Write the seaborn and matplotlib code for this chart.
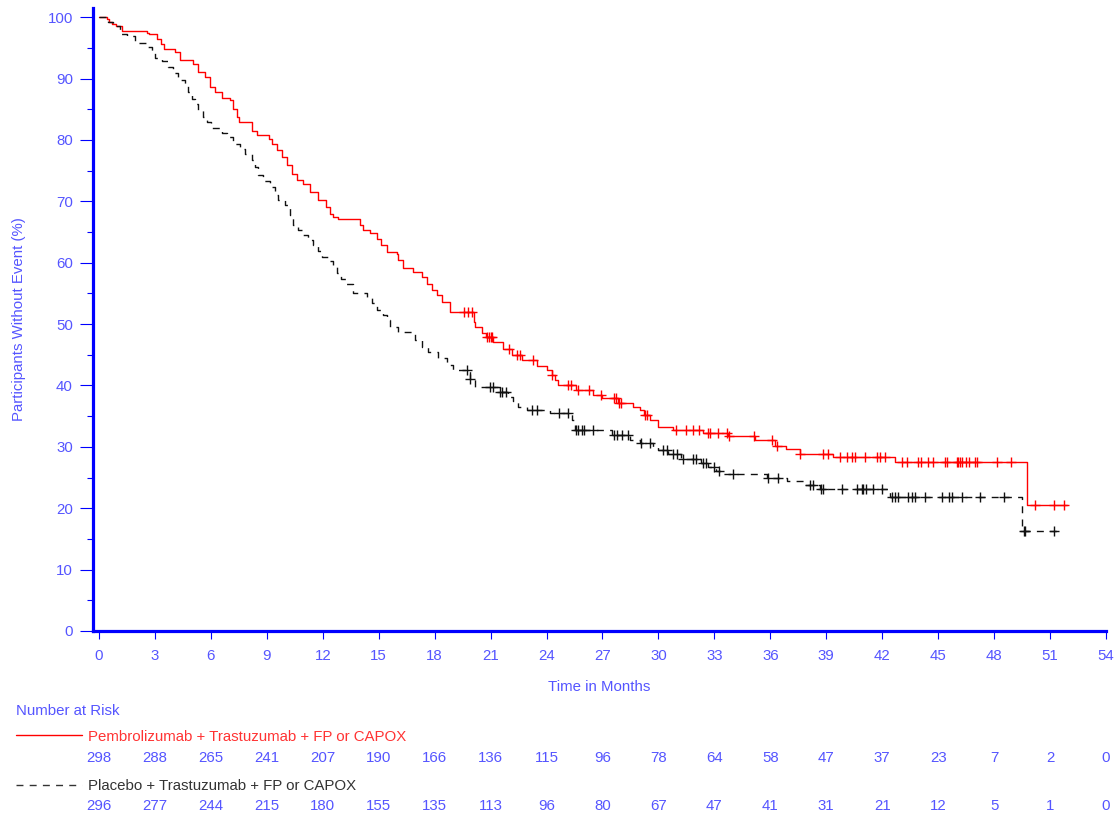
import numpy as np
import pandas as pd
import matplotlib
matplotlib.use("Agg")
import matplotlib.pyplot as plt
import matplotlib.transforms as mtransforms
from matplotlib.lines import Line2D
import seaborn as sns

# Kaplan-Meier knots (months, % without event)
red_time = [0, 0.41, 0.55, 0.7, 0.9, 1.25, 2.6, 2.7, 3.1, 3.3, 3.5, 4.1, 4.35, 5.06, 5.3,
            5.68, 5.95, 6.2, 6.58, 7.02, 7.2, 7.38, 7.5, 8.19, 8.49, 9.1, 9.3, 9.53, 9.8,
            10.06, 10.33, 10.6, 10.95, 11.3, 11.76, 12.17, 12.39, 12.56, 12.83, 14.0, 14.17,
            14.53, 14.9, 15.12, 15.43, 15.96, 16.05, 16.3, 16.85, 17.3, 17.57, 17.87, 18.1,
            18.37, 18.8, 20.1, 20.16, 20.52, 20.75, 21.14, 21.68, 22.13, 22.66, 23.47, 24.0,
            24.27, 24.45, 24.63, 25.6, 26.5, 26.95, 27.85, 28.65, 29.0, 29.2, 29.55, 30.0,
            30.8, 32.4, 33.75, 35.17, 36.25, 36.84, 37.6, 39.37, 42.7, 49.74, 51.89]
red_surv = [100, 99.7, 99.3, 98.9, 98.5, 97.8, 97.5, 97.2, 96.5, 95.7, 94.9, 94.4, 93.1, 92.4,
            91.1, 90.3, 88.7, 87.8, 86.8, 86.5, 85.1, 83.8, 83.0, 81.5, 80.8, 80.1, 79.4, 78.3,
            77.2, 75.9, 74.5, 73.5, 72.9, 71.5, 70.2, 69.1, 68.0, 67.5, 67.1, 66.1, 65.3, 64.8,
            63.9, 62.9, 61.7, 61.4, 60.4, 59.1, 58.5, 57.7, 56.6, 55.6, 54.7, 53.6, 52.0, 50.4,
            49.5, 48.6, 47.9, 47.1, 45.9, 45.0, 44.2, 43.2, 42.5, 41.7, 40.9, 40.1, 39.3, 38.4,
            37.9, 37.1, 36.5, 36.0, 35.2, 34.4, 33.3, 32.7, 32.2, 31.8, 31.1, 30.1, 29.6, 28.9,
            28.3, 27.5, 20.6, 20.6]
red_censor = [19.6, 19.8, 20.0, 20.8, 20.9, 21.0, 21.1, 22.0, 22.4, 22.6, 23.25, 24.3, 25.15,
              25.3, 25.7, 26.3, 26.9, 27.6, 27.75, 27.9, 28.0, 29.3, 29.4, 30.95, 31.5, 31.85,
              32.2, 32.67, 32.76, 33.2, 33.66, 33.8, 35.1, 36.1, 36.35, 37.6, 38.8, 39.1, 39.73,
              40.1, 40.36, 40.54, 41.07, 41.7, 41.9, 42.15, 43.04, 43.31, 43.93, 44.06, 44.47,
              44.73, 45.36, 45.45, 46.02, 46.09, 46.17, 46.26, 46.49, 46.67, 46.97, 47.09,
              48.17, 48.88, 50.19, 51.2, 51.74]

blk_time = [0, 0.5, 0.75, 1.13, 1.5, 1.93, 2.59, 2.82, 3.0, 3.36, 3.72, 3.98, 4.25, 4.6, 4.79,
            4.97, 5.15, 5.32, 5.6, 5.77, 5.99, 6.58, 6.85, 7.2, 7.56, 7.83, 8.19, 8.36, 8.54,
            8.8, 9.17, 9.44, 9.6, 9.97, 10.24, 10.42, 10.69, 10.95, 11.22, 11.49, 11.76, 11.94,
            12.3, 12.56, 12.74, 13.0, 13.24, 13.64, 14.35, 14.62, 14.9, 15.24, 15.43, 15.6,
            16.05, 16.94, 17.3, 17.66, 18.2, 18.64, 19.0, 19.9, 20.16, 21.5, 21.95, 22.2, 22.48,
            22.93, 24.18, 25.34, 25.45, 25.52, 27.5, 28.47, 29.0, 29.72, 30.0, 30.52, 31.2,
            32.3, 32.67, 33.1, 33.47, 35.8, 36.9, 37.86, 38.66, 42.4, 49.47, 51.35]
blk_surv = [100, 99.2, 98.5, 97.3, 96.9, 95.8, 95.2, 94.4, 93.4, 92.8, 91.9, 90.9, 89.7, 88.9,
            87.8, 86.7, 85.8, 84.9, 83.8, 83.0, 82.0, 81.2, 80.5, 79.4, 78.6, 77.7, 76.7, 75.6,
            74.3, 73.3, 72.4, 71.0, 70.2, 69.4, 67.8, 66.1, 65.3, 64.5, 63.7, 62.9, 61.9, 61.0,
            60.2, 59.3, 58.3, 57.4, 56.6, 55.0, 54.2, 53.4, 52.3, 51.5, 50.7, 49.6, 48.7, 47.4,
            46.3, 45.5, 44.4, 43.3, 42.5, 41.1, 39.8, 39.0, 38.2, 37.4, 36.5, 36.0, 35.5, 34.4,
            33.6, 32.7, 31.9, 31.1, 30.6, 30.0, 29.5, 28.9, 28.1, 27.3, 26.8, 26.1, 25.6, 24.9,
            24.4, 23.8, 23.1, 21.9, 16.3, 16.3]
blk_censor = [19.72, 19.9, 20.96, 21.14, 21.5, 21.6, 21.8, 23.2, 23.47, 24.68, 25.16, 25.6,
              25.7, 25.9, 26.0, 26.5, 27.6, 27.76, 28.03, 28.38, 29.05, 29.54, 30.26, 30.44,
              30.8, 30.98, 31.33, 31.87, 32.0, 32.4, 32.56, 33.0, 33.24, 34.0, 35.9, 36.4,
              38.12, 38.3, 38.7, 38.8, 39.82, 40.63, 40.9, 40.98, 41.13, 41.48, 41.97, 42.5,
              42.68, 42.86, 43.4, 43.58, 43.75, 44.29, 45.18, 45.6, 45.72, 46.26, 47.24, 48.53,
              49.6, 49.65, 51.2]

risk_months = list(range(0, 55, 3))
red_risk = [298, 288, 265, 241, 207, 190, 166, 136, 115, 96, 78, 64, 58, 47, 37, 23, 7, 2, 0]
blk_risk = [296, 277, 244, 215, 180, 155, 135, 113, 96, 80, 67, 47, 41, 31, 21, 12, 5, 1, 0]

red_label = "Pembrolizumab + Trastuzumab + FP or CAPOX"
blk_label = "Placebo + Trastuzumab + FP or CAPOX"

sns.set_theme(style="white")
plt.rcParams["font.family"] = ["Liberation Sans", "DejaVu Sans"]

BLUE = "#0000ff"
TXT = "#5555ff"
FS = 10.8


def step_value(times, surv, at):
    idx = np.searchsorted(times, at, side="right") - 1
    return np.asarray(surv)[idx]


fig = plt.figure(figsize=(11.17, 8.16), dpi=100)
ax = fig.add_axes([93 / 1117, 185 / 816, 1013 / 1117, 623 / 816])

red_df = pd.DataFrame({"t": red_time, "s": red_surv})
blk_df = pd.DataFrame({"t": blk_time, "s": blk_surv})

sns.lineplot(data=red_df, x="t", y="s", ax=ax, color="#ff0000", lw=1.0,
             drawstyle="steps-post", estimator=None, sort=False)
sns.lineplot(data=blk_df, x="t", y="s", ax=ax, color="#111111", lw=1.0,
             drawstyle="steps-post", estimator=None, sort=False, linestyle=(0, (5, 4.5)))

red_c = pd.DataFrame({"t": red_censor, "s": step_value(red_time, red_surv, red_censor)})
blk_c = pd.DataFrame({"t": blk_censor, "s": step_value(blk_time, blk_surv, blk_censor)})
sns.scatterplot(data=red_c, x="t", y="s", ax=ax, marker="+", s=55, color="#ff0000",
                linewidth=1.0)
sns.scatterplot(data=blk_c, x="t", y="s", ax=ax, marker="+", s=55, color="#111111",
                linewidth=1.0)

ax.set_xlim(-0.32, 54)
ax.set_ylim(0, 101.5)
ax.set_xticks(risk_months)
ax.set_yticks(range(0, 101, 10))
ax.set_yticks(range(5, 100, 10), minor=True)

for side in ["top", "right"]:
    ax.spines[side].set_visible(False)
for side in ["left", "bottom"]:
    ax.spines[side].set_color(BLUE)
    ax.spines[side].set_linewidth(2.3)

ax.tick_params(axis="x", which="major", direction="out", length=6, width=0.8,
               color=BLUE, labelcolor=TXT, labelsize=FS, pad=7, bottom=True)
ax.tick_params(axis="y", which="major", direction="out", length=9.5, width=0.8,
               color=BLUE, labelcolor=TXT, labelsize=FS, pad=5, left=True)
ax.tick_params(axis="y", which="minor", direction="out", length=4.5, width=0.8,
               color=BLUE, left=True)

ax.set_xlabel("Time in Months", color=TXT, fontsize=FS)
ax.set_ylabel("Participants Without Event (%)", color=TXT, fontsize=FS)
ax.xaxis.set_label_coords(0.5, -0.079)
ax.yaxis.set_label_coords(-0.066, 0.5)

# number-at-risk table
trans = mtransforms.blended_transform_factory(ax.transData, fig.transFigure)
fig.text(16 / 1117, 1 - 711 / 816, "Number at Risk", color=TXT, fontsize=FS,
         ha="left", va="center")
fig.add_artist(Line2D([16 / 1117, 82 / 1117], [1 - 735 / 816] * 2, color="#ff0000",
                      lw=1.0, transform=fig.transFigure))
fig.text(88 / 1117, 1 - 737 / 816, red_label, color="#ff3333", fontsize=FS,
         ha="left", va="center")
fig.add_artist(Line2D([16 / 1117, 82 / 1117], [1 - 785 / 816] * 2, color="#333333",
                      lw=1.0, linestyle=(0, (5, 4.5)), transform=fig.transFigure))
fig.text(88 / 1117, 1 - 786 / 816, blk_label, color="#333333", fontsize=FS,
         ha="left", va="center")
for m, r, b in zip(risk_months, red_risk, blk_risk):
    ax.text(m, 1 - 758 / 816, str(r), transform=trans, color=TXT, fontsize=FS,
            ha="center", va="center")
    ax.text(m, 1 - 806 / 816, str(b), transform=trans, color=TXT, fontsize=FS,
            ha="center", va="center")

fig.savefig("out.png", dpi=100)
